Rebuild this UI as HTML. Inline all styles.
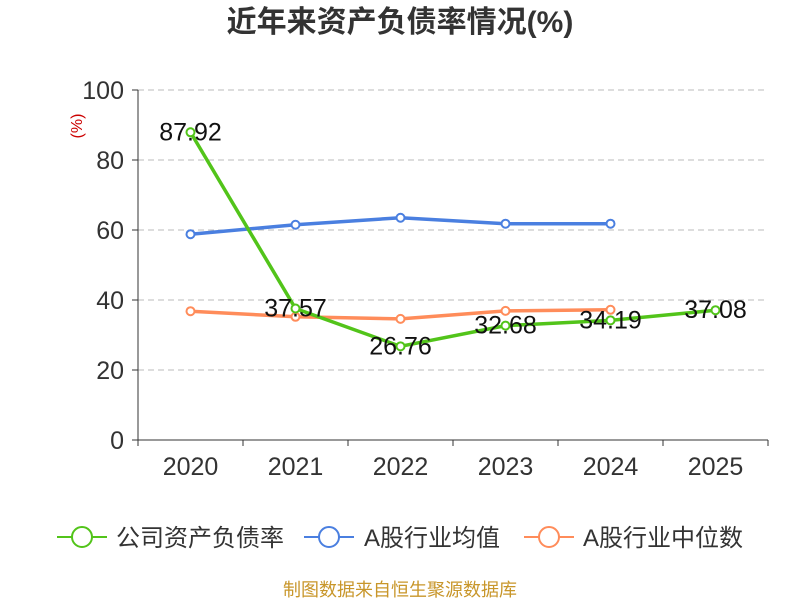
<!DOCTYPE html>
<html><head><meta charset="utf-8"><style>
body{margin:0;background:#fff;}
svg text{font-family:"Liberation Sans","Noto Sans CJK SC",sans-serif;}
</style></head><body>
<svg id="chart" width="800" height="600">
<text x="400" y="32" text-anchor="middle" font-size="30" font-weight="bold" fill="#333">近年来资产负债率情况(%)</text>
<text x="82" y="126" font-size="16" fill="#c00" transform="rotate(-90 82 126)" text-anchor="middle">(%)</text>
<g id="grid"></g><g id="axes"></g><g id="series"></g>
<g>
 <g><line x1="57" y1="537" x2="107" y2="537" stroke="#52c41a" stroke-width="2"/><circle cx="82" cy="537" r="10" fill="#fff" stroke="#52c41a" stroke-width="2"/><text x="116" y="546" font-size="24" fill="#333">公司资产负债率</text></g>
 <g><line x1="304" y1="537" x2="354" y2="537" stroke="#4a7fe0" stroke-width="2"/><circle cx="329" cy="537" r="10" fill="#fff" stroke="#4a7fe0" stroke-width="2"/><text x="364" y="546" font-size="24" fill="#333">A股行业均值</text></g>
 <g><line x1="524" y1="537" x2="574" y2="537" stroke="#ff8c5a" stroke-width="2"/><circle cx="549" cy="537" r="10" fill="#fff" stroke="#ff8c5a" stroke-width="2"/><text x="583" y="546" font-size="24" fill="#333">A股行业中位数</text></g>
</g>
<text x="400" y="596" text-anchor="middle" font-size="18" fill="#c8962a">制图数据来自恒生聚源数据库</text>
</svg>
<script>
const categories=["2020","2021","2022","2023","2024","2025"];
const companyValues=[87.92,37.57,26.76,32.68,34.19,37.08];
const avgValues=[58.8,61.5,63.5,61.8,61.8];
const medianValues=[36.8,35.2,34.6,36.9,37.2];
const yTicks=[0,20,40,60,80,100];
const NS="http://www.w3.org/2000/svg";
const X0=138,X1=768,Y0=440,Y1=90;
const band=(X1-X0)/categories.length;
const xs=i=>X0+band*(i+0.5);
const ys=v=>Y0-(v/100)*(Y0-Y1);
function mk(tag,attrs,parent){const e=document.createElementNS(NS,tag);for(const k in attrs)e.setAttribute(k,attrs[k]);parent.appendChild(e);return e;}
const grid=document.getElementById('grid'),axes=document.getElementById('axes'),ser=document.getElementById('series');
yTicks.forEach(t=>{
 if(t>0){const l=mk('line',{x1:X0,x2:X1,y1:ys(t),y2:ys(t),stroke:'#bbb','stroke-dasharray':'6,4'},grid);
 
 }
 mk('line',{x1:X0-6,x2:X0,y1:ys(t),y2:ys(t),stroke:'#333'},axes);
 const tx=mk('text',{x:X0-14,y:ys(t)+9,'text-anchor':'end','font-size':25,fill:'#333'},axes);tx.textContent=t;
 
 
});
mk('line',{x1:X0,x2:X0,y1:Y1,y2:Y0,stroke:'#333'},axes);
mk('line',{x1:X0,x2:X1,y1:Y0,y2:Y0,stroke:'#333'},axes);
for(let i=0;i<=categories.length;i++)mk('line',{x1:X0+band*i,x2:X0+band*i,y1:Y0,y2:Y0+6,stroke:'#333'},axes);
categories.forEach((c,i)=>{const t=mk('text',{x:xs(i),y:Y0+35,'text-anchor':'middle','font-size':25,fill:'#333'},axes);t.textContent=c;
 
 });
function drawLine(vals,color,name,labels){
 const g=mk('g',{},ser);
 
 
 mk('polyline',{points:vals.map((v,i)=>xs(i)+','+ys(v)).join(' '),fill:'none',stroke:color,'stroke-width':3.5},g);
 vals.forEach((v,i)=>{const c=mk('circle',{cx:xs(i),cy:ys(v),r:4,fill:'#fff',stroke:color,'stroke-width':2},g);
  
  
  if(labels){const t=mk('text',{x:xs(i),y:ys(v)+8,'text-anchor':'middle','font-size':25,fill:'#111'},g);t.textContent=v.toFixed(2);
   
   }
 });
}
drawLine(avgValues,'#4a7fe0','series-industry-avg',false);
drawLine(medianValues,'#ff8c5a','series-industry-median',false);
drawLine(companyValues,'#52c41a','series-company',true);
</script>
</body></html>
